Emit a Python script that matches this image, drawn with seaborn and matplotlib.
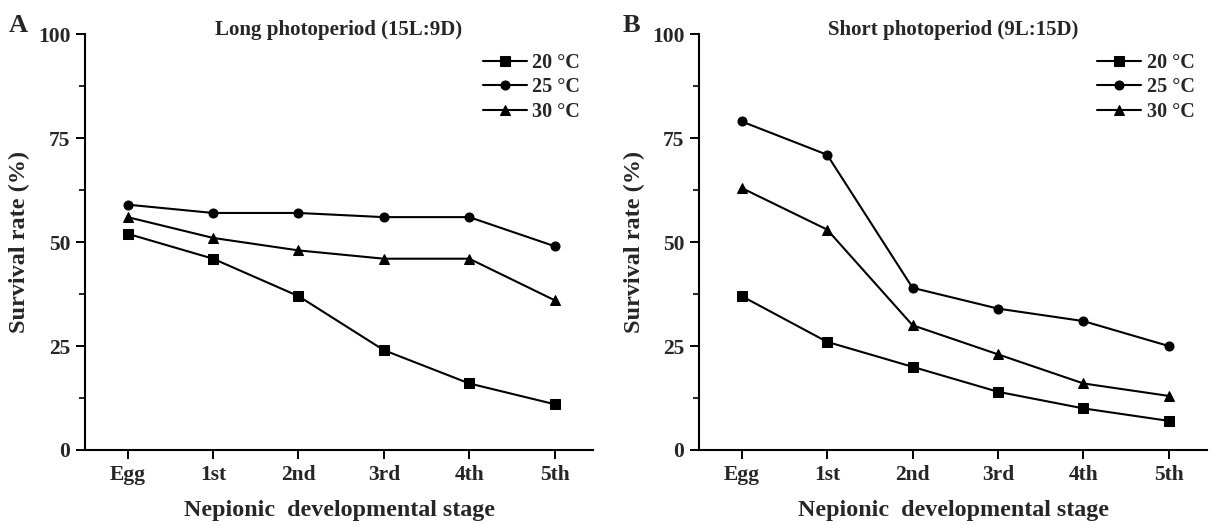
import numpy as np
import pandas as pd
import matplotlib
matplotlib.use("Agg")
import matplotlib.pyplot as plt
import matplotlib.ticker as mticker
import seaborn as sns

# ── Data ─────────────────────────────────────────────────────────────────────

STAGES = ["Egg", "1st", "2nd", "3rd", "4th", "5th"]
TEMPS = ["20 °C", "25 °C", "30 °C"]

LONG_20 = [52, 46, 37, 24, 16, 11]
LONG_25 = [59, 57, 57, 56, 56, 49]
LONG_30 = [56, 51, 48, 46, 46, 36]

SHORT_20 = [37, 26, 20, 14, 10, 7]
SHORT_25 = [79, 71, 39, 34, 31, 25]
SHORT_30 = [63, 53, 30, 23, 16, 13]

PANELS = [
    ("A", "Long photoperiod (15L:9D)", [LONG_20, LONG_25, LONG_30]),
    ("B", "Short photoperiod (9L:15D)", [SHORT_20, SHORT_25, SHORT_30]),
]
MARKERS = {"20 °C": "s", "25 °C": "o", "30 °C": "^"}


def to_long(series):
    rows = []
    for temp, vals in zip(TEMPS, series):
        for i, v in enumerate(vals):
            rows.append({"pos": i, "stage": STAGES[i], "temp": temp, "rate": v})
    return pd.DataFrame(rows)


sns.set_theme(style="ticks")
plt.rcParams["font.family"] = ["Liberation Serif", "DejaVu Serif"]
plt.rcParams["font.weight"] = "bold"

fig = plt.figure(figsize=(12.1, 5.25), dpi=100)
lefts = [0.0702, 0.5777]

for left, (letter, title, series) in zip(lefts, PANELS):
    ax = fig.add_axes([left, 0.1429, 0.42, 0.792])
    df = to_long(series)
    sns.lineplot(
        data=df, x="pos", y="rate", hue="temp", style="temp",
        palette=["black"] * 3, markers=MARKERS, dashes=False,
        markersize=6.5, linewidth=1.5, markeredgecolor="black", ax=ax,
    )
    sns.despine(ax=ax)
    ax.set_xlim(-0.5, 5.45)
    ax.set_ylim(0, 100)
    ax.set_xticks(range(len(STAGES)))
    ax.set_xticklabels(STAGES)
    ax.set_yticks([0, 25, 50, 75, 100])
    ax.yaxis.set_minor_locator(mticker.MultipleLocator(12.5))
    ax.tick_params(axis="both", which="major", labelsize=15.5, length=6.5,
                   width=1.4, direction="out", color="black", pad=4)
    ax.tick_params(axis="x", which="major", pad=4.5)
    ax.tick_params(axis="y", which="minor", length=4.5, width=1.2, color="black")
    for lab in ax.get_xticklabels() + ax.get_yticklabels():
        lab.set_fontweight("bold")
    for s in ["left", "bottom"]:
        ax.spines[s].set_linewidth(1.5)
        ax.spines[s].set_color("black")
    ax.set_xlabel("Nepionic  developmental stage", fontsize=17.3, fontweight="bold")
    ax.set_ylabel("Survival rate (%)", fontsize=17.5, fontweight="bold")
    ax.xaxis.set_label_coords(0.5, -0.145)
    ax.xaxis.label.set_va("center")
    ax.yaxis.set_label_coords(-0.128, 0.5)
    ax.yaxis.label.set_va("center")
    ax.text(0.5, 1.01, title, transform=ax.transAxes, fontsize=15,
            fontweight="bold", ha="center", va="center")
    ax.text(-0.15, 1.022, letter, transform=ax.transAxes, fontsize=19,
            fontweight="bold", ha="left", va="center")
    leg = ax.legend(loc="upper right", bbox_to_anchor=(0.975, 0.955), frameon=False,
                    fontsize=14.5, handlelength=2.2, handletextpad=0.25,
                    labelspacing=0.22, borderaxespad=0, borderpad=0)
    for t in leg.get_texts():
        t.set_fontweight("bold")

fig.savefig("out.png", dpi=100)
